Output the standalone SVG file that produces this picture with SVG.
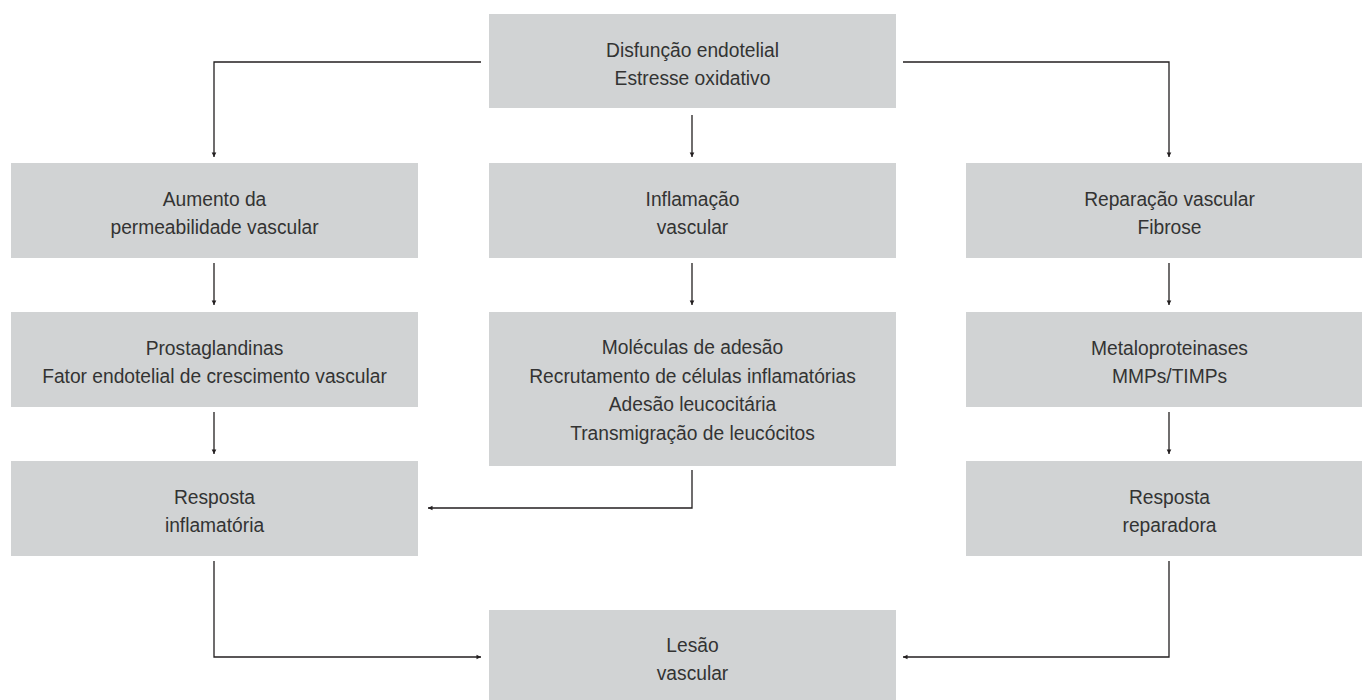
<svg xmlns="http://www.w3.org/2000/svg" width="1362" height="700" viewBox="0 0 1362 700">
  <style>
    .box { fill: #d1d3d4; }
    .lbl { font-family: "Liberation Sans", Arial, sans-serif; font-size: 21px; fill: #333333; text-anchor: middle; }
    .conn { fill: none; stroke: #231f20; stroke-width: 1.3; marker-end: url(#arr); }
  </style>
  <defs>
    <marker id="arr" viewBox="-5 -3 6 6" refX="0" refY="0" markerWidth="6" markerHeight="6" markerUnits="userSpaceOnUse" orient="auto">
      <path d="M-4.5,-2.3 L0,0 L-4.5,2.3 Z" fill="#231f20"/>
    </marker>
  </defs>
  <rect width="1362" height="700" fill="#ffffff"/>

  <g id="n-disfuncao">
    <rect class="box" x="489" y="14" width="407" height="94"/>
    <text class="lbl" transform="translate(692.5 57) scale(0.915 1)"><tspan x="0" y="0">Disfunção endotelial</tspan><tspan x="0" y="28">Estresse oxidativo</tspan></text>
  </g>

  <g id="n-aumento">
    <rect class="box" x="11" y="163" width="407" height="95"/>
    <text class="lbl" transform="translate(214.5 206) scale(0.915 1)"><tspan x="0" y="0">Aumento da</tspan><tspan x="0" y="28">permeabilidade vascular</tspan></text>
  </g>

  <g id="n-inflamacao">
    <rect class="box" x="489" y="163" width="407" height="95"/>
    <text class="lbl" transform="translate(692.5 206) scale(0.915 1)"><tspan x="0" y="0">Inflamação</tspan><tspan x="0" y="28">vascular</tspan></text>
  </g>

  <g id="n-reparacao">
    <rect class="box" x="966" y="163" width="407" height="95"/>
    <text class="lbl" transform="translate(1169.5 206) scale(0.915 1)"><tspan x="0" y="0">Reparação vascular</tspan><tspan x="0" y="28">Fibrose</tspan></text>
  </g>

  <g id="n-prostaglandinas">
    <rect class="box" x="11" y="312" width="407" height="95"/>
    <text class="lbl" transform="translate(214.5 355) scale(0.915 1)"><tspan x="0" y="0">Prostaglandinas</tspan><tspan x="0" y="28">Fator endotelial de crescimento vascular</tspan></text>
  </g>

  <g id="n-moleculas">
    <rect class="box" x="489" y="312" width="407" height="154"/>
    <text class="lbl" transform="translate(692.5 354) scale(0.915 1)"><tspan x="0" y="0">Moléculas de adesão</tspan><tspan x="0" y="28.7">Recrutamento de células inflamatórias</tspan><tspan x="0" y="57.4">Adesão leucocitária</tspan><tspan x="0" y="86">Transmigração de leucócitos</tspan></text>
  </g>

  <g id="n-metaloproteinases">
    <rect class="box" x="966" y="312" width="407" height="95"/>
    <text class="lbl" transform="translate(1169.5 355) scale(0.915 1)"><tspan x="0" y="0">Metaloproteinases</tspan><tspan x="0" y="28">MMPs/TIMPs</tspan></text>
  </g>

  <g id="n-resposta-inflamatoria">
    <rect class="box" x="11" y="461" width="407" height="95"/>
    <text class="lbl" transform="translate(214.5 504) scale(0.915 1)"><tspan x="0" y="0">Resposta</tspan><tspan x="0" y="28">inflamatória</tspan></text>
  </g>

  <g id="n-resposta-reparadora">
    <rect class="box" x="966" y="461" width="407" height="95"/>
    <text class="lbl" transform="translate(1169.5 504) scale(0.915 1)"><tspan x="0" y="0">Resposta</tspan><tspan x="0" y="28">reparadora</tspan></text>
  </g>

  <g id="n-lesao">
    <rect class="box" x="489" y="610" width="407" height="95"/>
    <text class="lbl" transform="translate(692.5 652) scale(0.915 1)"><tspan x="0" y="0">Lesão</tspan><tspan x="0" y="28">vascular</tspan></text>
  </g>

  <g id="connectors">
    <path class="conn" d="M481,62 H214 V157"/>
    <path class="conn" d="M903,62 H1169 V157"/>
    <path class="conn" d="M692,115 V157"/>
    <path class="conn" d="M214,263 V305"/>
    <path class="conn" d="M692,263 V305"/>
    <path class="conn" d="M1169,263 V305"/>
    <path class="conn" d="M214,412 V454"/>
    <path class="conn" d="M1169,412 V454"/>
    <path class="conn" d="M692,470 V508 H428"/>
    <path class="conn" d="M214,561 V657 H481"/>
    <path class="conn" d="M1169,561 V657 H903"/>
  </g>
</svg>
